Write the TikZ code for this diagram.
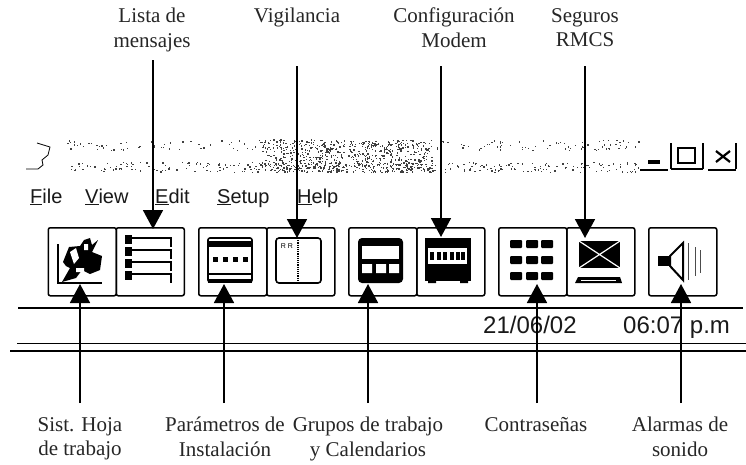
\documentclass[tikz,border=0pt]{standalone}
\usepackage{fontspec}
\setmainfont{Liberation Serif}
\newfontfamily\uifont{Liberation Sans}
\usetikzlibrary{arrows.meta}
\tikzset{
  btn/.style={draw,line width=1.5pt,rounded corners=2pt,inner sep=0pt,minimum height=68pt,minimum width=68pt,anchor=north west},
  lbl/.style={font=\fontsize{21}{24.5}\selectfont,align=center,anchor=north,inner sep=0pt,text=black!85},
  menu/.style={font=\uifont\fontsize{20}{20}\selectfont,anchor=base west,inner sep=0pt,text=black!90},
  status/.style={font=\uifont\fontsize{24}{24}\selectfont,anchor=base west,inner sep=0pt,text=black!90},
  callout/.style={line width=1.8pt,-{Triangle[length=19pt,width=20pt]}},
  rule/.style={line width=1.5pt},
  icon/.style={line width=1.6pt},
  speck/.style={fill=black!75}
}
\begin{document}
\begin{tikzpicture}[x=1pt,y=-1pt]
\useasboundingbox (0,0) rectangle (746,464);
\fill[white] (0,0) rectangle (746,464);
% title bar noise
\pgfmathsetseed{4711}
\foreach \i in {1,...,500}{
  \pgfmathsetmacro{\px}{65+rnd*575}
  \pgfmathsetmacro{\py}{rnd<0.4 ? 140+rnd*10 : 162+rnd*10}
  \fill[speck] (\px,\py) rectangle +(1.3,1.3);
}
\foreach \i in {1,...,650}{
  \pgfmathsetmacro{\px}{262+rnd*170}
  \pgfmathsetmacro{\py}{139+rnd*33}
  \fill[speck] (\px,\py) rectangle +(1.3,1.3);
}
\draw[line width=.8pt] (37,143) -- (50,147) -- (48,155) -- (42,160) -- (43,165) -- (38,169) -- (26,169);
% window controls
\draw[line width=1.3pt] (640,170) -- (668,170) (671,169) -- (703,169) (708,170) -- (736,170);
\draw[line width=1.3pt] (671,143) -- (671,169) (703,143) -- (703,169) (736,143) -- (736,169);
\fill (648,160) rectangle (660,164);
\draw[line width=1.8pt] (678,148) rectangle (695,163);
\draw[line width=2.2pt] (716,151) -- (730,162) (730,151) -- (716,162);
% menu
\node[menu] (mfile) at (30,203) {\underline{F}ile};
\node[menu] (mview) at (85,203) {\underline{V}iew};
\node[menu] (medit) at (155,203) {\underline{E}dit};
\node[menu] (msetup) at (217,203) {\underline{S}etup};
\node[menu] (mhelp) at (297,203) {\underline{H}elp};
% buttons
\node[btn] (b1) at (47.5,227) {};
\node[btn] (b2) at (115.5,227) {};
\node[btn] (b3) at (198,227) {};
\node[btn] (b4) at (266,227) {};
\node[btn] (b5) at (348,227) {};
\node[btn] (b6) at (416,227) {};
\node[btn] (b7) at (498,227) {};
\node[btn] (b8) at (566,227) {};
\node[btn] (b9) at (648,227) {};
% icon 1
\draw[icon] (58,244) -- (58,283) -- (102,283);
\fill (63,262) -- (69,247) -- (80,246) -- (84,240) -- (90,238) -- (92,245) -- (98,240) -- (92,252) -- (102,256) -- (100,270) -- (90,274) -- (82,270) -- (76,278) -- (62,282) -- (70,268) -- (66,266) -- cycle;
\fill[white] (70,252) -- (76,248) -- (79,258) -- (74,264) -- cycle (84,244) rectangle (88,250) (76,268) rectangle (84,272);
% icon 2
\foreach \y in {238,250,262,274}{
  \fill (125,\y-3) rectangle (132,\y+6);
  \draw[icon] (132,\y) -- (171,\y) -- (171,\y+9);
}
% icon 3
\draw[icon,rounded corners=2pt] (208,238) rectangle (252,282);
\fill (208,241) rectangle (252,247);
\foreach \x in {215,225,235,245} \fill (\x-2.5,256.5) rectangle (\x+2.5,261.5);
\draw[icon] (208,274) -- (252,274);
\fill (208,279) rectangle (252,283);
% icon 4
\draw[icon,rounded corners=3pt] (276,238) rectangle (321,283);
\draw[line width=1.2pt,densely dotted] (298,238) -- (298,283);
\node[inner sep=0pt,font=\uifont\fontsize{7}{7}\selectfont] (rr) at (287,246) {R R};
% icon 5
\fill[rounded corners=4pt] (358,238) rectangle (403,283);
\fill[white] (362,246) rectangle (399,259);
\fill[white] (362,264) rectangle (372,273) (376,264) rectangle (386,273) (389,264) rectangle (399,273);
% icon 6
\fill (425,238) rectangle (471,281);
\fill (428,281) rectangle (436,283) (460,281) rectangle (468,283);
\fill[white] (428,248) rectangle (467,264);
\foreach \x in {432,438.5,445,451.5,458,463} \fill (\x-2,252) rectangle (\x+2,260);
% icon 7
\foreach \y in {240,256,272}
  \foreach \x in {510,526,541}
    \fill[rounded corners=1pt] (\x,\y) rectangle (\x+12,\y+8);
% icon 8
\fill (579,241) rectangle (620,268);
\draw[white,line width=1.2pt] (579,241) -- (620,268) (620,241) -- (579,268);
\fill (578,277) -- (620,277) -- (622,283) -- (575,283) -- cycle;
\fill[white] (581,279.5) rectangle (616,281);
% icon 9
\fill (658,256) rectangle (670,266);
\draw[line width=2pt] (670,256) -- (683,243) -- (683,280) -- (670,266) -- cycle;
\draw[line width=.9pt,black!70] (688,243) -- (688,280) (695,247) -- (695,276) (700,250) -- (700,273);
% rules
\draw[rule] (18,308) -- (743,308);
\draw[rule] (17,343.5) -- (746,343.5);
\draw[rule] (10,351) -- (746,351);
% status text
\node[status] (date) at (483,333) {21/06/02};
\node[status] (time) at (623,333) {06:07 p.m};
% labels
\node[lbl] (l1) at (152,8) {Lista de\\mensajes};
\node[lbl] (l2) at (297,8) {Vigilancia};
\node[lbl] (l3) at (454,8) {Configuración\\Modem};
\node[lbl] (l4) at (585,8) {Seguros\\RMCS};
\node[lbl] (l5) at (80,417) {Sist. Hoja\\de trabajo};
\node[lbl] (l6) at (225,417) {Parámetros de\\Instalación};
\node[lbl] (l7) at (368,417) {Grupos de trabajo\\y Calendarios};
\node[lbl] (l8) at (536,417) {Contraseñas};
\node[lbl] (l9) at (680,417) {Alarmas de\\sonido};
% connector ends
\coordinate (s1) at (153,60);  \coordinate (e1) at (153,229);
\coordinate (s2) at (297,66);  \coordinate (e2) at (297,238);
\coordinate (s3) at (441,66);  \coordinate (e3) at (441,237);
\coordinate (s4) at (585,66);  \coordinate (e4) at (585,238);
\coordinate (s5) at (80,403);  \coordinate (e5) at (80,284);
\coordinate (s6) at (224,403); \coordinate (e6) at (224,284);
\coordinate (s7) at (368,403); \coordinate (e7) at (368,284);
\coordinate (s8) at (537,403); \coordinate (e8) at (537,284);
\coordinate (s9) at (681,403); \coordinate (e9) at (681,284);
\foreach \k in {1,...,9} \draw[callout] (s\k) -- (e\k);
\end{tikzpicture}
\end{document}
